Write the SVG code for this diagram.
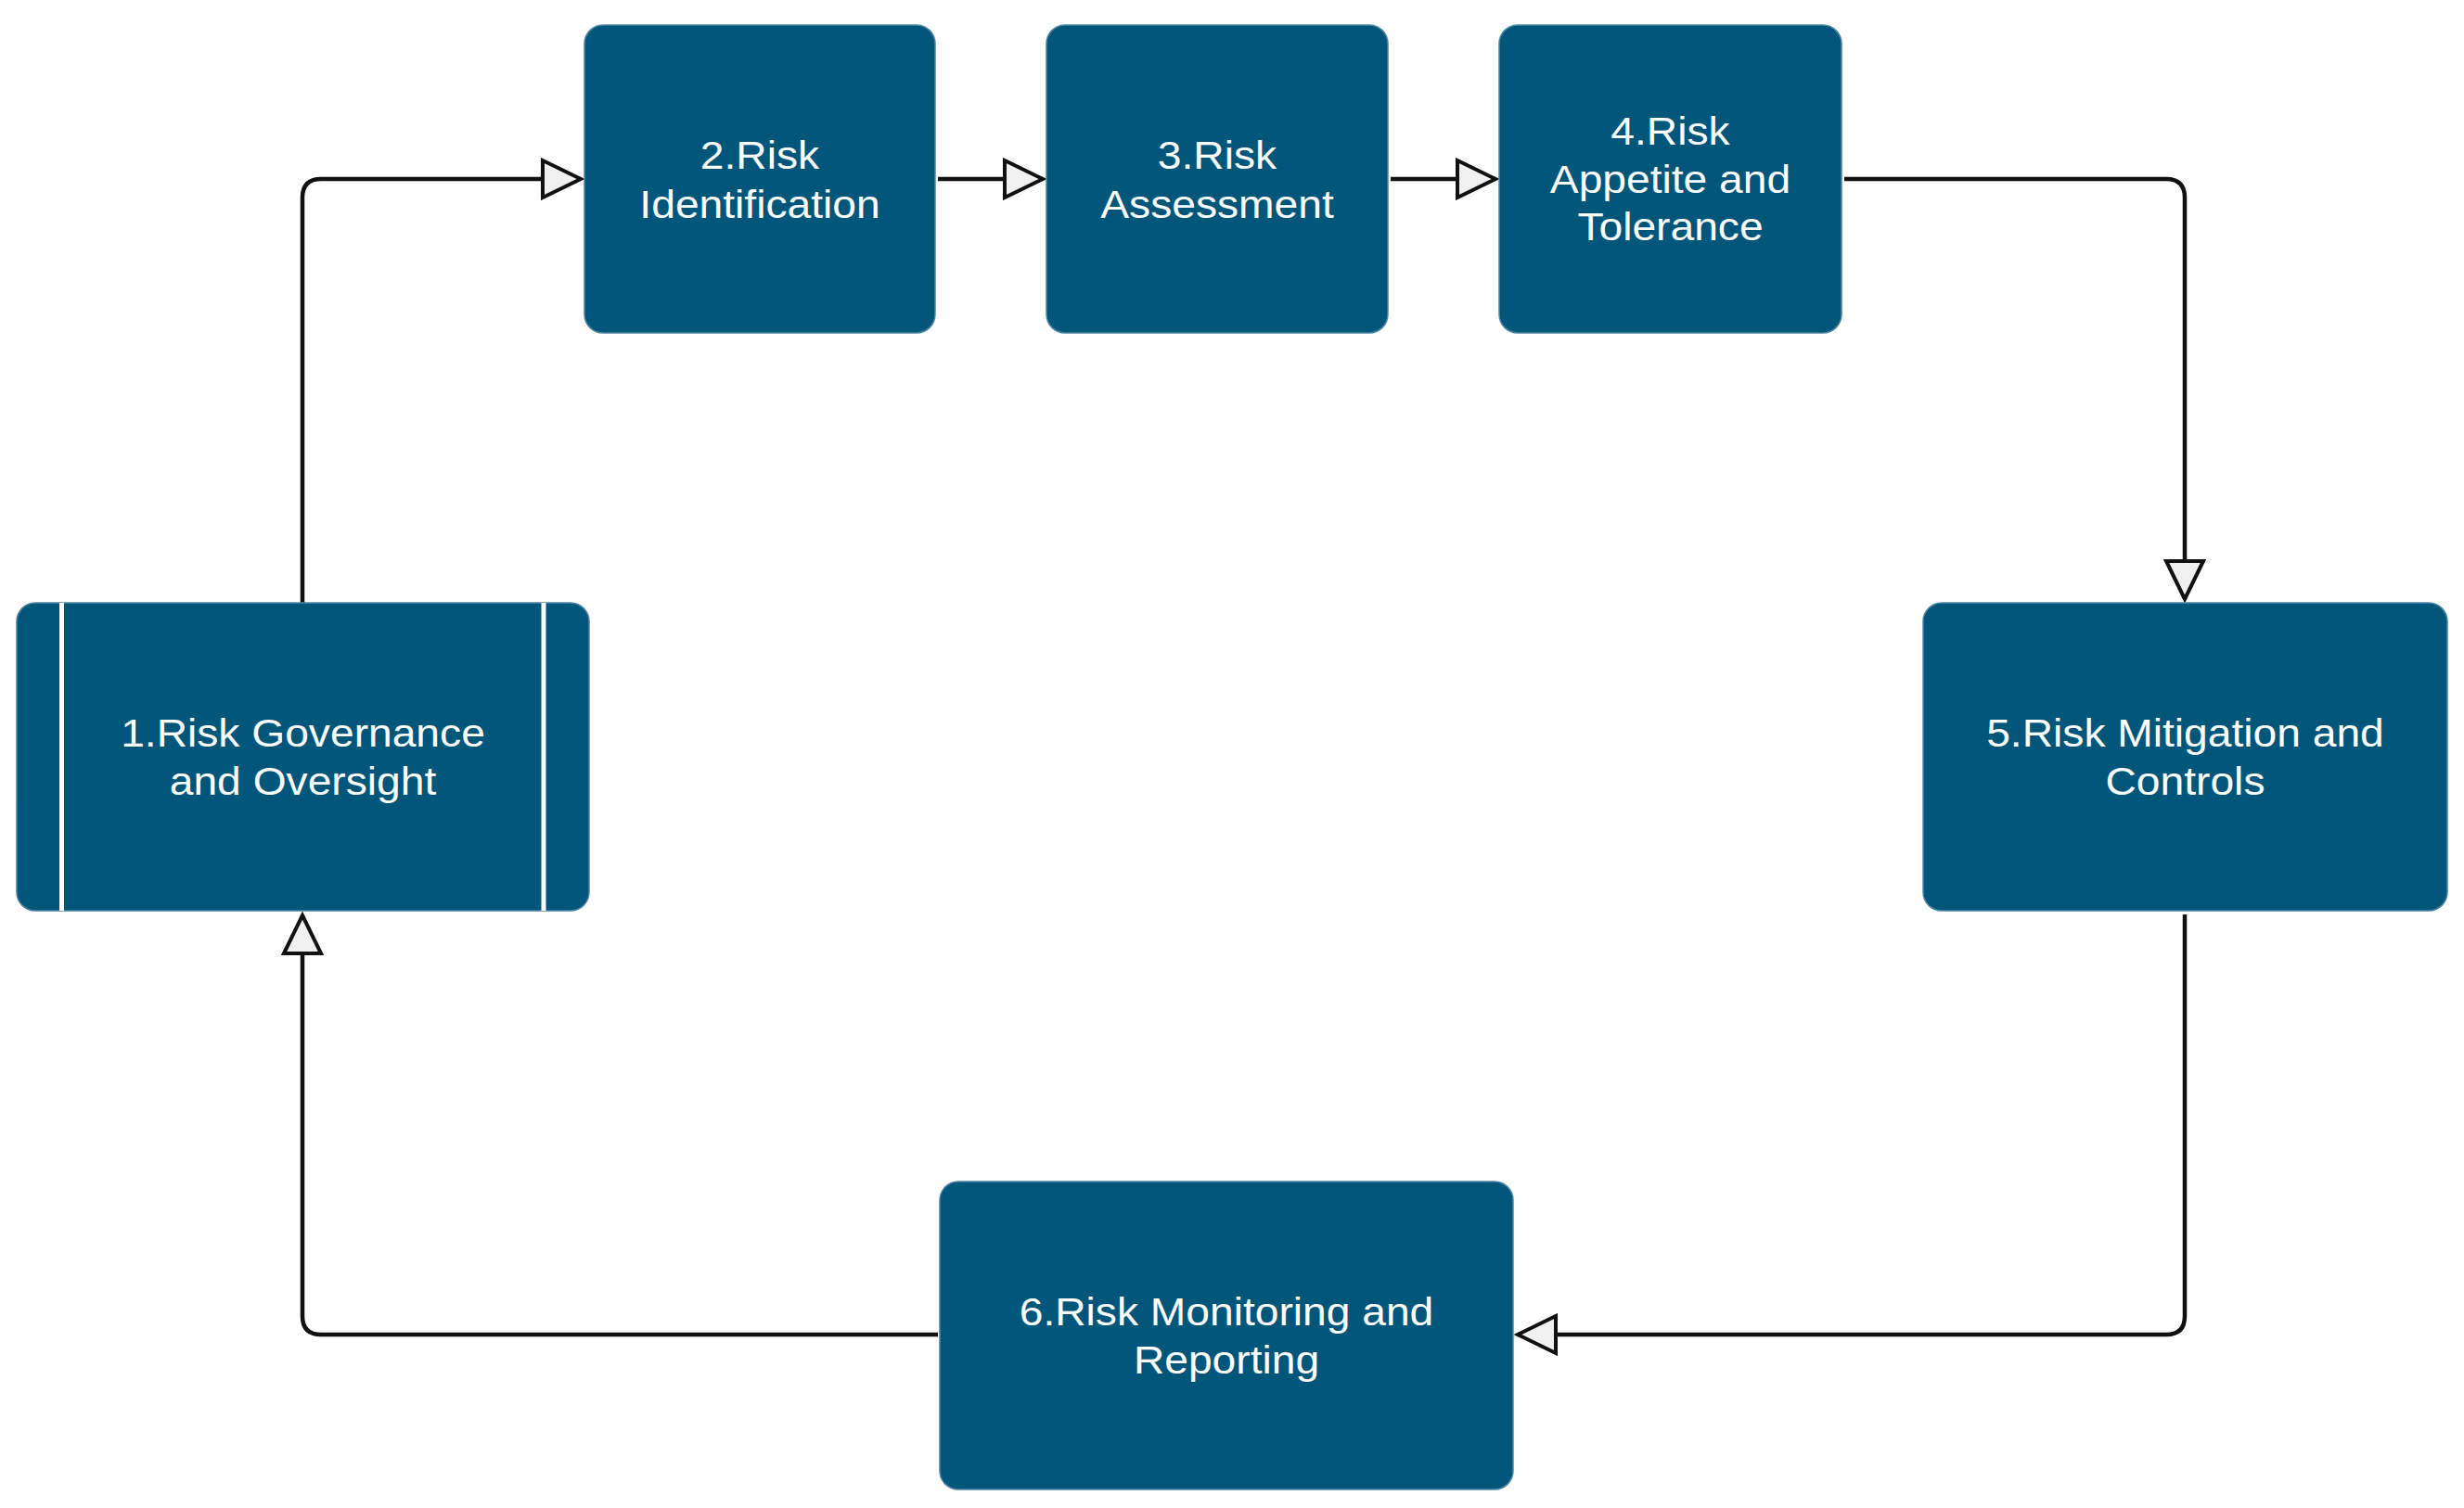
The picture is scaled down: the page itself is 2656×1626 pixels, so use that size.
<svg xmlns="http://www.w3.org/2000/svg" width="2656" height="1626" viewBox="0 0 2656 1626">
<style>
.node{fill:#02567A;stroke:#4d84a2;stroke-width:1.5}
.bar{stroke:#ffffff;stroke-width:5}
.lbl{fill:#ffffff;font-family:"Liberation Sans",Arial,sans-serif;font-size:42px;text-anchor:middle}
.conn{fill:none;stroke:#111111;stroke-width:4.5;stroke-linejoin:round}
</style>
<defs>
<marker id="arr" viewBox="0 0 48 46" markerWidth="48" markerHeight="46" refX="44" refY="23" orient="auto" markerUnits="userSpaceOnUse">
<path d="M3,3 L44,23 L3,43 Z" fill="#f0f0f0" stroke="#111111" stroke-width="4" stroke-linejoin="miter"/>
</marker>
</defs>
<rect width="2656" height="1626" fill="#ffffff"/>
<g id="connectors">
<path class="conn" d="M326,650 L326,213 Q326,193 346,193 L626,193" marker-end="url(#arr)"/>
<path class="conn" d="M1011,193 L1124,193" marker-end="url(#arr)"/>
<path class="conn" d="M1499,193 L1612,193" marker-end="url(#arr)"/>
<path class="conn" d="M1988,193 L2335,193 Q2355,193 2355,213 L2355,646" marker-end="url(#arr)"/>
<path class="conn" d="M2355,986 L2355,1419 Q2355,1439 2335,1439 L1636,1439" marker-end="url(#arr)"/>
<path class="conn" d="M1011,1439 L346,1439 Q326,1439 326,1419 L326,987" marker-end="url(#arr)"/>
</g>
<g id="node1">
<rect class="node" x="18" y="650" width="617" height="332" rx="20"/>
<line class="bar" x1="66.5" y1="650" x2="66.5" y2="982"/>
<line class="bar" x1="586" y1="650" x2="586" y2="982"/>
<g transform="translate(326.5,0) scale(1.1,1)">
<text class="lbl" x="0" y="805">1.Risk Governance</text>
<text class="lbl" x="0" y="857">and Oversight</text>
</g>
</g>
<g id="node2">
<rect class="node" x="630" y="27" width="378" height="332" rx="20"/>
<g transform="translate(819,0) scale(1.1,1)">
<text class="lbl" x="0" y="182">2.Risk</text>
<text class="lbl" x="0" y="235">Identification</text>
</g>
</g>
<g id="node3">
<rect class="node" x="1128" y="27" width="368" height="332" rx="20"/>
<g transform="translate(1312,0) scale(1.1,1)">
<text class="lbl" x="0" y="182">3.Risk</text>
<text class="lbl" x="0" y="235">Assessment</text>
</g>
</g>
<g id="node4">
<rect class="node" x="1616" y="27" width="369" height="332" rx="20"/>
<g transform="translate(1800.5,0) scale(1.1,1)">
<text class="lbl" x="0" y="156">4.Risk</text>
<text class="lbl" x="0" y="208">Appetite and</text>
<text class="lbl" x="0" y="259">Tolerance</text>
</g>
</g>
<g id="node5">
<rect class="node" x="2073" y="650" width="565" height="332" rx="20"/>
<g transform="translate(2355.5,0) scale(1.1,1)">
<text class="lbl" x="0" y="805">5.Risk Mitigation and</text>
<text class="lbl" x="0" y="857">Controls</text>
</g>
</g>
<g id="node6">
<rect class="node" x="1013" y="1274" width="618" height="332" rx="20"/>
<g transform="translate(1322,0) scale(1.1,1)">
<text class="lbl" x="0" y="1429">6.Risk Monitoring and</text>
<text class="lbl" x="0" y="1481">Reporting</text>
</g>
</g>
</svg>
